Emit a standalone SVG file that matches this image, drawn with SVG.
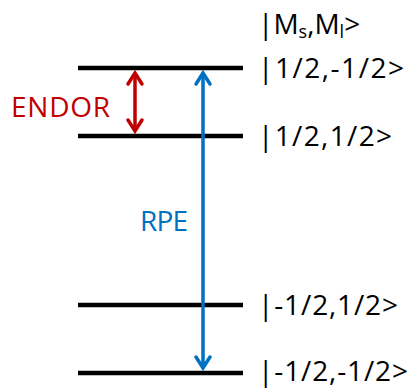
<svg xmlns="http://www.w3.org/2000/svg" width="414" height="389" viewBox="0 0 414 389">
<style>
.lvl{stroke:#000;stroke-width:4.5;fill:none}
.lbl{font-family:"Open Sans","Liberation Sans",sans-serif;font-size:28px;fill:#000}
.red{stroke:#C00000;stroke-width:3.5;fill:none}
.blue{stroke:#0070C0;stroke-width:3.5;fill:none}
.head{stroke-width:3.5;fill:none;stroke-linecap:round;stroke-linejoin:miter}
.tag{font-family:"Open Sans","Liberation Sans",sans-serif;font-size:28px}
</style>
<rect width="414" height="389" fill="#fff"/>
<g id="levels">
<line class="lvl" x1="78" y1="68" x2="243" y2="68"/>
<line class="lvl" x1="78" y1="136" x2="243" y2="136"/>
<line class="lvl" x1="78" y1="305" x2="243" y2="305"/>
<line class="lvl" x1="78" y1="373" x2="243" y2="373"/>
</g>
<g id="labels">
<text class="lbl" x="258" y="34">|M<tspan font-size="18" dy="4">s</tspan><tspan dy="-4">,M</tspan><tspan font-size="18" dy="4">l</tspan><tspan dy="-4">&gt;</tspan></text>
<text class="lbl" x="258" y="78" textLength="146" lengthAdjust="spacing">|1/2,-1/2&gt;</text>
<text class="lbl" x="258" y="146" textLength="134" lengthAdjust="spacing">|1/2,1/2&gt;</text>
<text class="lbl" x="258" y="315" textLength="140" lengthAdjust="spacing">|-1/2,1/2&gt;</text>
<text class="lbl" x="258" y="381" font-size="27" textLength="150" lengthAdjust="spacing">|-1/2,-1/2&gt;</text>
</g>
<g id="connectors">
<g id="endor">
<line class="red" x1="135" y1="73" x2="135" y2="131"/>
<polyline class="red head" points="128,84 135,73 142,84"/>
<polyline class="red head" points="128,120 135,131 142,120"/>
</g>
<g id="rpe">
<line class="blue" x1="203" y1="73" x2="203" y2="368"/>
<polyline class="blue head" points="196,84 203,73 210,84"/>
<polyline class="blue head" points="196,357 203,368 210,357"/>
</g>
</g>
<text class="tag" x="11" y="117" fill="#C00000" textLength="99" lengthAdjust="spacing">ENDOR</text>
<text class="tag" x="140" y="231" fill="#0070C0" textLength="48" lengthAdjust="spacing">RPE</text>
</svg>
